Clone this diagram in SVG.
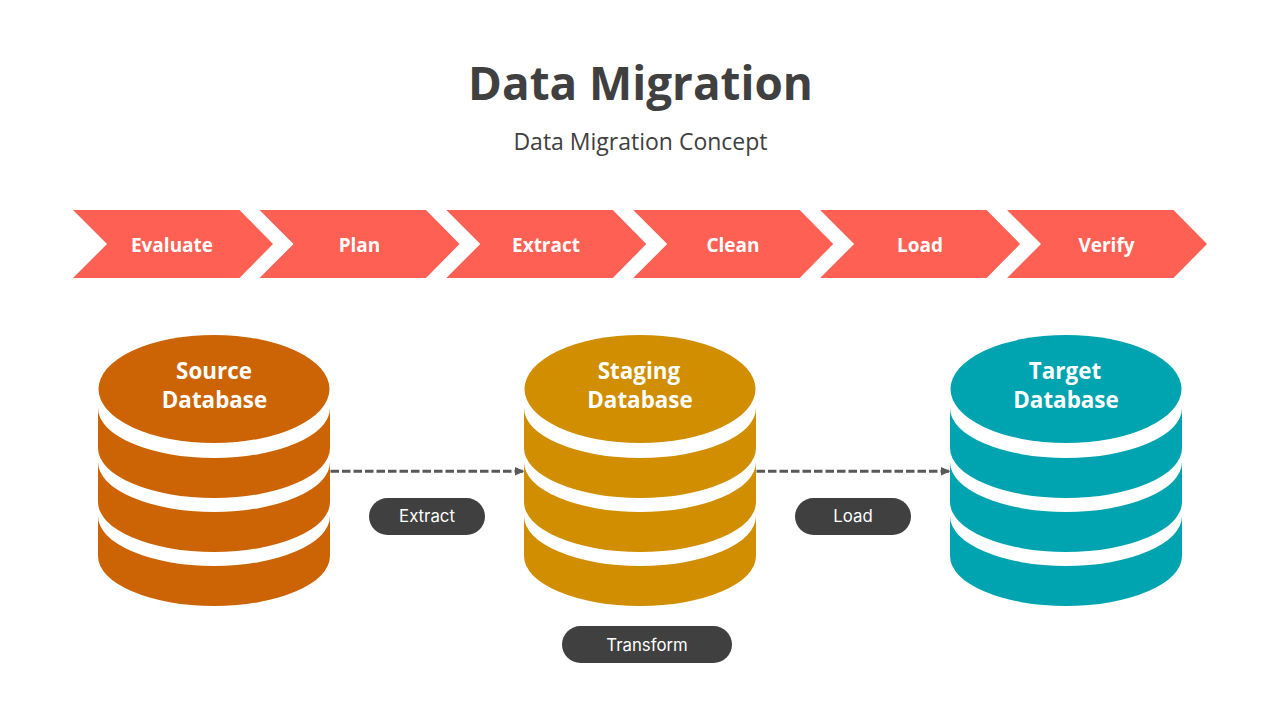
<svg xmlns="http://www.w3.org/2000/svg" xmlns:xlink="http://www.w3.org/1999/xlink" width="1280" height="720" viewBox="0 0 1280 720">
<style>
text{text-anchor:middle;font-family:"Open Sans","Noto Sans",sans-serif}
.title{font-size:45.800px;font-weight:700;fill:#404040}
.sub{font-size:23px;fill:#404040}
.chev{fill:#FF6054}
.step{font-size:19px;font-weight:700;fill:#fff}
.db{font-size:22.400px;font-weight:700;fill:#fff}
.pill{fill:#404040}
.pilltext{font-family:Inter,"Noto Sans",sans-serif;font-size:16.800px;fill:#fff}
.conn{stroke:#595959;stroke-width:3;stroke-dasharray:8.500 3;fill:none}
</style>
<defs>
<marker id="arrow" markerUnits="userSpaceOnUse" markerWidth="11" markerHeight="11" refX="10" refY="5.500" orient="auto"><path d="M0 1L10 5.500L0 10Z" fill="#595959"/></marker>
<path id="chevron" d="M0 0H166.500L200 34L166.500 68H0L34 34Z"/>
<g id="cyl">
<path d="M-116 516A116 50 0 0 0 116 516V556A116 50 0 0 1 -116 556Z"/>
<path d="M-116 462A116 50 0 0 0 116 462V502A116 50 0 0 1 -116 502Z"/>
<path d="M-116 408A116 50 0 0 0 116 408V448A116 50 0 0 1 -116 448Z"/>
<ellipse cx="0" cy="389" rx="115.500" ry="54"/>
</g>
</defs>
<rect width="1280" height="720" fill="#fff"/>
<text class="title" x="640.500" y="100">Data Migration</text>
<text class="sub" x="640.500" y="150">Data Migration Concept</text>
<g id="step-evaluate"><use href="#chevron" class="chev" x="73" y="210"/><text class="step" x="172" y="251.500">Evaluate</text></g>
<g id="step-plan"><use href="#chevron" class="chev" x="259.500" y="210"/><text class="step" x="359.500" y="251.500">Plan</text></g>
<g id="step-extract"><use href="#chevron" class="chev" x="446.300" y="210"/><text class="step" x="546" y="251.500">Extract</text></g>
<g id="step-clean"><use href="#chevron" class="chev" x="633.200" y="210"/><text class="step" x="733" y="251.500">Clean</text></g>
<g id="step-load"><use href="#chevron" class="chev" x="820.100" y="210"/><text class="step" x="920" y="251.500">Load</text></g>
<g id="step-verify"><use href="#chevron" class="chev" x="1007" y="210"/><text class="step" x="1106.500" y="251.500">Verify</text></g>
<g id="connectors">
<line class="conn" x1="330.500" y1="471.300" x2="524.500" y2="471.300" marker-end="url(#arrow)"/>
<line class="conn" x1="756.500" y1="471.300" x2="950.500" y2="471.300" marker-end="url(#arrow)"/>
</g>
<g id="source-db"><use href="#cyl" x="214" fill="#CC6405"/><text class="db" x="214" y="379">Source</text><text class="db" x="214.500" y="408">Database</text></g>
<g id="staging-db"><use href="#cyl" x="640" fill="#D08E00"/><text class="db" x="639" y="379">Staging</text><text class="db" x="640" y="408">Database</text></g>
<g id="target-db"><use href="#cyl" x="1066" fill="#00A4B0"/><text class="db" x="1065" y="379">Target</text><text class="db" x="1066" y="408">Database</text></g>
<g id="pill-extract"><rect class="pill" x="369" y="498" width="116" height="37" rx="18.500"/><text class="pilltext" x="427" y="522">Extract</text></g>
<g id="pill-load"><rect class="pill" x="795" y="498" width="116" height="37" rx="18.500"/><text class="pilltext" x="853" y="522">Load</text></g>
<g id="pill-transform"><rect class="pill" x="562" y="626" width="170" height="37" rx="18.500"/><text class="pilltext" x="647" y="651">Transform</text></g>
</svg>
